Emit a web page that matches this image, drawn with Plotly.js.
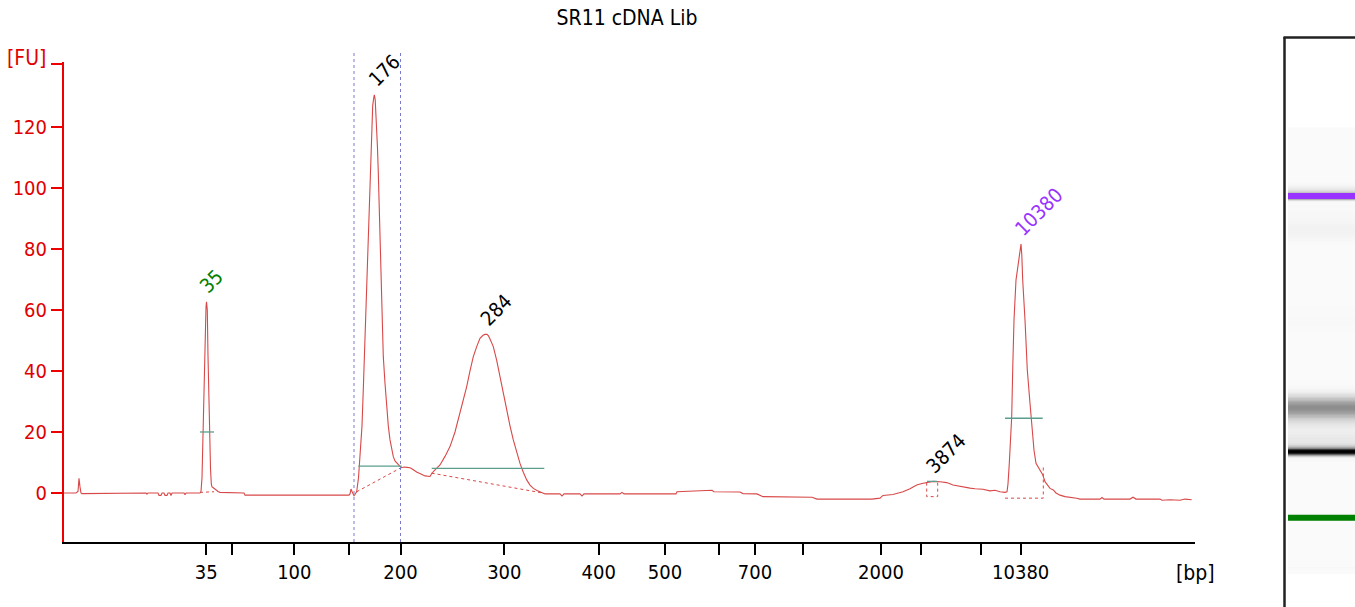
<!DOCTYPE html>
<html>
<head>
<meta charset="utf-8">
<script src="https://cdn.plot.ly/plotly-3.0.1.min.js"></script>
<style>
html,body{margin:0;padding:0;background:#fff;}
#chart{width:1355px;height:607px;}
</style>
</head>
<body>
<div id="chart"></div>
<script>
// ---- data (x = migration position, y = fluorescence [FU]) ----
const traceX = [64,76,78,79,80,81,82,122,123,146,147,148,158,159,161,162,164,165,167,168,170,171,172,184,185,186,200,
  201,202,203,204,205,206,206.5,207.3,208,209,209.7,210.5,211.3,212,213,214,216,218,220,244,245,349,350,351,352,353,354,355,
  356.7,358.5,360.7,362,363.3,364.7,366,367.7,369,370,371,372.7,373.7,374.3,375.2,376.7,377.5,378.3,380,381.7,383.3,385,386.7,388.3,390,391.7,393.3,395,396.7,398.3,400,401.7,404,407,410,413,417,421,425,430,
  431.7,435,440,445,450,455,460,463.3,466.7,470,473.3,476.7,480,483,485,487,488.5,490,493.3,496.7,500,503.3,506.7,510,513.3,516.7,520,523.3,526.7,530,533.3,537,540,543.3,545,
  560,562,564,580,582,584,620,622,624,642,655,676,677,690,700,712,714,740,743,757,763,800,812,817,850,872,880,883,893,903,910,916.7,922,926.7,933,940,946.7,953,960,970,975,983,990,995,1000,1005,1007,
  1008,1009.3,1010.5,1011.7,1012.7,1014,1016,1018.3,1020,1021,1021.8,1022.7,1025,1027.3,1030,1032.7,1034,1036,1038,1040,1042.7,1045,1048,1050,1053.3,1056,1060,1065,1076.7,1080,1100,1102,1104,1130,1133,1136,1140,1160,1162,1170,1180,1185,1191.7];
const traceY = [0,0,0.5,4.8,2,0,-0.2,-0.2,0,0,-0.4,0,0,-0.8,-0.8,0,0,-0.8,-0.8,0,0,-0.8,0,0,-0.6,0,0,
  0.5,5,20,38,52,61,62.7,60,45,28,17,8,3,2,1.8,1.5,1,0.5,0.2,0,-0.7,-0.7,-0.3,1.3,0.5,-0.2,-0.9,-0.5,
  0.5,5,14,22,34,48,61,83,97,105,116,127,129.5,130.5,129,121,113,105,83,61,44.7,36,28.3,22,17.4,14.2,11.9,10.5,9.8,9.2,8.7,8.3,8.5,8.4,8.3,7.7,6.8,6.2,5.6,5.4,
  6.4,7.6,9.2,12,15.2,20,26.1,30.5,34.9,40,44.7,48,50.7,51.7,52,52,51.5,50.5,48,43.5,38.1,32.5,27.2,22,17.4,13.3,9.7,6.8,4.3,2.6,1.5,0.8,0.3,-0.1,-0.3,
  -0.3,-1,-0.3,-0.3,-1,-0.3,-0.3,0.2,-0.3,-0.3,-0.3,-0.3,0.4,0.6,0.9,0.9,0.4,0.3,-0.2,-0.3,-1.2,-1.2,-1.4,-2,-2,-2,-1.7,-0.8,-0.5,0.4,1.4,2.6,3.1,3.4,3.8,3.7,3.4,2.6,2.1,1.6,1.4,1.2,0.7,0.9,0.4,0.2,0.4,
  3,9.7,17,25,40.3,56.7,69.8,75.3,78,81.6,78,69.8,56.7,40.3,29.4,18.5,14,9.7,8.5,7.5,6,3.7,2.5,1.5,1.0,0,-0.7,-1.2,-1.7,-2,-2,-1.5,-2,-2,-1.4,-2,-2,-2,-2.4,-2.2,-2.4,-2,-2.2];

const peakLabels = ['35','176','284','3874','10380'];
const peakX = [206.5, 374.3, 486.7, 933, 1021];
const peakY = [62.7, 130.5, 52, 3.8, 81.6];
const peakColors = ['#008000','#000000','#000000','#000000','#9933ff'];
const markerPeaks = [0, 4];           // lower / upper marker indices

// peak-width marker lines (teal)
const widthX = [200,214,null,358.3,401.7,null,431.7,544.3,null,927,937,null,1005,1042.7];
const widthY = [20,20,null,8.8,8.8,null,8.1,8.1,null,3.8,3.8,null,24.5,24.5];

// integration baselines (dotted)
const baseX = [200,214,null,356.7,401.7,null,431.7,544.3,null,926.7,926.7,937.7,937.7,null,1005,1043.3,1043.3];
const baseY = [0.2,0.4,null,0.4,8.4,null,6.5,-0.1,null,3.4,-1.2,-1.2,3.6,null,-1.7,-1.7,8.6];

// region limits (dashed verticals)
const regionBounds = [354, 400.5];

// axis ticks
const yTickVals = [0,20,40,60,80,100,120,140.7];
const yTickText = ['0','20','40','60','80','100','120',''];
const xTickVals = [206.3,232.3,294.3,348.5,400.5,504.3,598.7,665,719,755,803,881,921,981,1020.7];
const xTickText = ['35','','100','','200','300','400','500','','700','','2000','','','10380'];

// ---- rendering ----
const W = 1355, H = 607;
const FONT = '"DejaVu Sans Condensed", "Liberation Sans", sans-serif';
const red = '#d84848';
const px = v => v / W, py = v => (H - v) / H;

const traces = [
  {x: traceX, y: traceY, type: 'scatter', mode: 'lines', line: {color: red, width: 1.1}, hoverinfo: 'skip', xaxis: 'x', yaxis: 'y'},
  {x: baseX, y: baseY, type: 'scatter', mode: 'lines', line: {color: red, width: 1, dash: 'dot'}, hoverinfo: 'skip', connectgaps: false},
  {x: widthX, y: widthY, type: 'scatter', mode: 'lines', line: {color: '#5c9e8e', width: 1.3}, hoverinfo: 'skip', connectgaps: false},
  // gel lane
  {type: 'heatmap', x: [0], y: traceX, z: traceY.map(v => [v]), xaxis: 'x3', yaxis: 'y3',
   zmin: 0, zmax: 120, showscale: false, hoverinfo: 'skip',
   colorscale: [[0, '#fafafa'], [1, '#000000']]}
];

const annotations = peakLabels.map((t, i) => {
  const L = t.length * 11.4;
  return {
    x: peakX[i], y: peakY[i], xref: 'x', yref: 'y', text: t, showarrow: false,
    textangle: -45, xanchor: 'center', yanchor: 'middle',
    xshift: 2.5 + 0.707 * L / 2 - 0.707 * 7.5,
    yshift: 7 + 0.707 * L / 2 + 0.707 * 7.5,
    font: {family: FONT, size: 20, color: peakColors[i]}
  };
});
annotations.push({x: px(48), y: py(57.5), xref: 'paper', yref: 'paper', text: '[FU]', showarrow: false,
  xanchor: 'right', yanchor: 'middle', font: {family: FONT, size: 21, color: '#e00000'}});
annotations.push({x: px(1195.5), y: py(573), xref: 'paper', yref: 'paper', text: '[bp]', showarrow: false,
  xanchor: 'center', yanchor: 'middle', font: {family: FONT, size: 21, color: '#000'}});

const shapes = regionBounds.map(b => ({type: 'line', xref: 'x', yref: 'paper', x0: b, x1: b,
  y0: py(542), y1: py(53), line: {color: '#7a7acc', width: 1, dash: 'dot'}}));
// gel marker bands
markerPeaks.forEach(i => shapes.push({type: 'line', xref: 'x3 domain', yref: 'y3', x0: 0, x1: 1,
  y0: peakX[i], y1: peakX[i], line: {color: peakColors[i], width: 6}}));
// gel frame
shapes.push({type: 'line', xref: 'paper', yref: 'paper', x0: px(1284.5), x1: px(1284.5), y0: 0, y1: py(37), line: {color: '#222', width: 2.5}});
shapes.push({type: 'line', xref: 'paper', yref: 'paper', x0: px(1283.5), x1: 1, y0: py(37.5), y1: py(37.5), line: {color: '#222', width: 2.5}});

const layout = {
  width: W, height: H,
  margin: {l: 0, r: 0, t: 0, b: 0},
  paper_bgcolor: '#fff', plot_bgcolor: 'rgba(0,0,0,0)',
  showlegend: false,
  title: {text: 'SR11 cDNA Lib', x: 627 / W, xanchor: 'center', y: py(18), yanchor: 'middle',
    font: {family: FONT, size: 21, color: '#000'}},
  font: {family: FONT},
  xaxis: {domain: [px(64), px(1195)], range: [64, 1195], showgrid: false, zeroline: false,
    showline: true, linecolor: '#000', linewidth: 2,
    ticks: 'outside', ticklen: 11, tickwidth: 2, tickcolor: '#000',
    tickmode: 'array', tickvals: xTickVals, ticktext: xTickText,
    tickfont: {family: FONT, size: 20, color: '#000'}, anchor: 'y'},
  yaxis: {domain: [py(542), py(62)], range: [-16.07, 141.3], showgrid: false, zeroline: false,
    showline: true, linecolor: '#ee0000', linewidth: 2,
    ticks: 'outside', ticklen: 11, tickwidth: 2, tickcolor: '#ee0000',
    tickmode: 'array', tickvals: yTickVals, ticktext: yTickText,
    tickfont: {family: FONT, size: 20, color: '#e00000'}, anchor: 'x'},
  xaxis3: {domain: [px(1288), 1], range: [-0.5, 0.5], visible: false, anchor: 'y3', fixedrange: true},
  yaxis3: {domain: [py(574.1), py(127.3)], range: [64, 1195], visible: false, anchor: 'x3', fixedrange: true},
  annotations: annotations,
  shapes: shapes
};

Plotly.newPlot('chart', traces, layout, {staticPlot: true, displayModeBar: false});
</script>
</body>
</html>
